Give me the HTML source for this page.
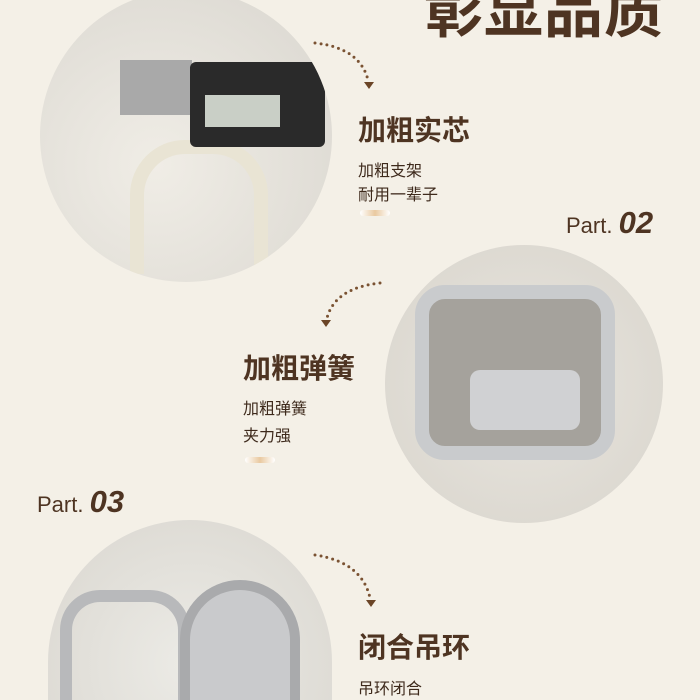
<!DOCTYPE html><html><head><meta charset="utf-8"><style>
html,body{margin:0;width:700px;height:700px;overflow:hidden}
body{background:#f4f0e7;font-family:"Liberation Sans","Noto Sans CJK SC",sans-serif;color:#4e3422}
#w{position:relative;width:700px;height:700px;overflow:hidden}
.a{position:absolute;white-space:nowrap}
.h{font-size:28px;font-weight:bold}
.s{font-size:16px;color:#3e2a1c}
.bar{position:absolute;width:30px;height:6px;border-radius:3px;background:linear-gradient(90deg,#fff,#e9c9a0,#fff)}
.c{position:absolute;border-radius:50%;overflow:hidden}
</style></head><body><div id="w">
<div class="a" style="left:424px;top:-36px;font-size:59px;font-weight:bold;letter-spacing:1px">彰显品质</div>
<div class="c" style="left:40px;top:-10px;width:292px;height:292px;background:radial-gradient(circle at 40% 60%,#f0ede6,#d9d6cf)">
 <div class="a" style="left:80px;top:70px;width:72px;height:55px;background:#a9a9a9"></div>
 <div class="a" style="left:90px;top:150px;width:110px;height:120px;border:14px solid #e9e4d4;border-bottom:none;border-radius:55px 55px 0 0"></div>
 <div class="a" style="left:150px;top:72px;width:135px;height:85px;background:#2a2a2a;border-radius:6px"></div>
 <div class="a" style="left:165px;top:105px;width:75px;height:32px;background:#c9cfc6"></div>
</div>
<div class="c" style="left:385px;top:245px;width:278px;height:278px;background:radial-gradient(circle at 50% 50%,#e9e6df,#d8d4cc)">
 <div class="a" style="left:30px;top:40px;width:172px;height:147px;border:14px solid #c9cbcd;border-radius:30px;background:#a5a29c"></div>
 <div class="a" style="left:85px;top:125px;width:110px;height:60px;background:#d0d1d3;border-radius:10px"></div>
</div>
<div class="c" style="left:48px;top:520px;width:284px;height:180px;border-radius:142px 142px 0 0/142px 142px 0 0;background:radial-gradient(circle at 50% 80%,#ecebe6,#d9d6cf)">
 <div class="a" style="left:12px;top:70px;width:106px;height:110px;border:12px solid #b8b9bb;border-bottom:none;border-radius:40px 40px 0 0"></div>
 <div class="a" style="left:132px;top:60px;width:100px;height:110px;border:10px solid #a9aaac;border-bottom:none;border-radius:60px 60px 0 0;background:#c9cacc"></div>
</div>
<svg class="a" style="left:0;top:0" width="700" height="700" fill="none" stroke="#7a5232" stroke-width="3" stroke-linecap="round" stroke-dasharray="0 6">
<path d="M315 43 Q360 48 368 80"/><path d="M380 283 Q335 288 327 318"/><path d="M315 555 Q362 562 370 598"/>
<g fill="#6b4527" stroke="none"><path d="M364 82h10l-5 7z"/><path d="M321 320h10l-5 7z"/><path d="M366 600h10l-5 7z"/></g>
</svg>
<div class="a h" style="left:358px;top:109px">加粗实芯</div>
<div class="a s" style="left:358px;top:157px">加粗支架</div>
<div class="a s" style="left:358px;top:181px">耐用一辈子</div>
<div class="bar" style="left:360px;top:210px"></div>
<div class="a" style="left:566px;top:205px;font-size:22px">Part. <b style="font-size:31px;font-style:italic">02</b></div>
<div class="a h" style="left:243px;top:347px">加粗弹簧</div>
<div class="a s" style="left:243px;top:395px">加粗弹簧</div>
<div class="a s" style="left:243px;top:422px">夹力强</div>
<div class="bar" style="left:245px;top:457px"></div>
<div class="a" style="left:37px;top:484px;font-size:22px">Part. <b style="font-size:31px;font-style:italic">03</b></div>
<div class="a h" style="left:358px;top:626px">闭合吊环</div>
<div class="a s" style="left:358px;top:675px">吊环闭合</div>
</div></body></html>
